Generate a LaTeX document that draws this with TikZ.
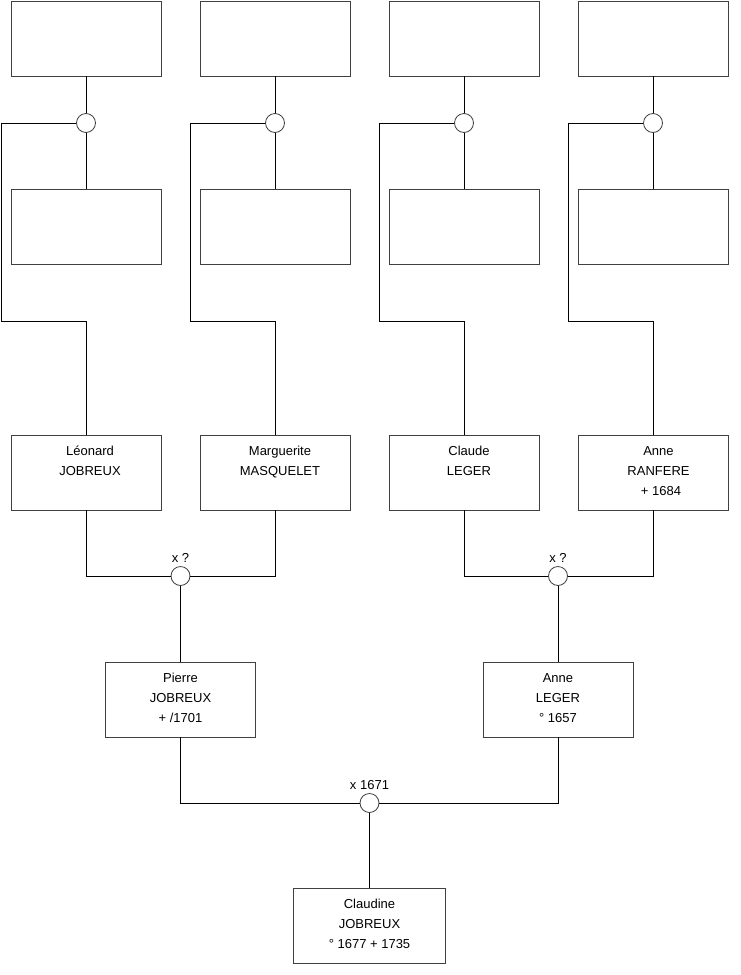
\documentclass[tikz,border=0pt]{standalone}
\usepackage{fontspec}
\setmainfont{Liberation Sans}

\begin{document}
\begin{tikzpicture}[x=1pt, y=-1pt, font=\fontsize{13}{20}\selectfont,
    box/.style={draw=black!75, line width=0.8pt, minimum width=150pt, minimum height=75pt, inner sep=0pt},
    who/.style={anchor=north, align=center, inner sep=0pt, execute at begin node=\strut},
    union/.style={circle, draw=black!75, fill=white, line width=0.8pt, minimum size=19pt, inner sep=0pt},
    link/.style={line width=0.8pt}]
    \useasboundingbox (0,0) rectangle (740,975);

    % 1. Empty boxes of the fourth generation and their unions
    \node[box] (leonard-f) at (86,38.5) {};
    \node[box] (leonard-m) at (86,227) {};
    \node[union] (leonard-u) at (86,123) {};
    \node[box] (marguerite-f) at (275,38.5) {};
    \node[box] (marguerite-m) at (275,227) {};
    \node[union] (marguerite-u) at (275,123) {};
    \node[box] (claude-f) at (464,38.5) {};
    \node[box] (claude-m) at (464,227) {};
    \node[union] (claude-u) at (464,123) {};
    \node[box] (ranfere-f) at (653,38.5) {};
    \node[box] (ranfere-m) at (653,227) {};
    \node[union] (ranfere-u) at (653,123) {};

    % 2. Grandparents
    \node[box] (leonard) at (86,472.5) {};
    \node[who] (leonard-t) at ([xshift=4pt, yshift=-11.6pt]leonard.north) {Léonard\\JOBREUX};
    \node[box] (marguerite) at (275,472.5) {};
    \node[who] (marguerite-t) at ([xshift=5pt, yshift=-11.6pt]marguerite.north) {Marguerite\\MASQUELET};
    \node[box] (claude) at (464,472.5) {};
    \node[who] (claude-t) at ([xshift=5pt, yshift=-11.6pt]claude.north) {Claude\\LEGER};
    \node[box] (ranfere) at (653,472.5) {};
    \node[who] (ranfere-t) at ([xshift=5.5pt, yshift=-11.6pt]ranfere.north) {Anne\\RANFERE\\\hspace*{5pt}+ 1684};

    % 3. Parents, child and the marriages
    \node[union, label={above:x ?}] (pierre-u) at (180.5,576) {};
    \node[union, label={above:x ?}] (anne-u) at (558,576) {};
    \node[box] (pierre) at (180.5,699.5) {};
    \node[who] (pierre-t) at ([yshift=-11.6pt]pierre.north) {Pierre\\JOBREUX\\+ /1701};
    \node[box] (anne) at (558,699.5) {};
    \node[who] (anne-t) at ([yshift=-11.6pt]anne.north) {Anne\\LEGER\\° 1657};
    \node[union, label={above:x 1671}] (claudine-u) at (369.5,803) {};
    \node[box, minimum width=152pt] (claudine) at (369.5,925.5) {};
    \node[who] (claudine-t) at ([yshift=-11.6pt]claudine.north) {Claudine\\JOBREUX\\° 1677 + 1735};

    % 4. Bend points of the long links
    \coordinate (leonard-k) at (1,321);
    \coordinate (marguerite-k) at (190,321);
    \coordinate (claude-k) at (379,321);
    \coordinate (ranfere-k) at (568,321);

    % 5. Links
    \draw[link] (leonard-f) -- (leonard-u) -- (leonard-m);
    \draw[link] (leonard-u.west) -| (leonard-k) -| (leonard.north);
    \draw[link] (marguerite-f) -- (marguerite-u) -- (marguerite-m);
    \draw[link] (marguerite-u.west) -| (marguerite-k) -| (marguerite.north);
    \draw[link] (claude-f) -- (claude-u) -- (claude-m);
    \draw[link] (claude-u.west) -| (claude-k) -| (claude.north);
    \draw[link] (ranfere-f) -- (ranfere-u) -- (ranfere-m);
    \draw[link] (ranfere-u.west) -| (ranfere-k) -| (ranfere.north);

    \draw[link] (leonard.south) |- (pierre-u.west);
    \draw[link] (marguerite.south) |- (pierre-u.east);
    \draw[link] (pierre-u) -- (pierre);
    \draw[link] (claude.south) |- (anne-u.west);
    \draw[link] (ranfere.south) |- (anne-u.east);
    \draw[link] (anne-u) -- (anne);

    \draw[link] (pierre.south) |- (claudine-u.west);
    \draw[link] (anne.south) |- (claudine-u.east);
    \draw[link] (claudine-u) -- (claudine);
\end{tikzpicture}
\end{document}
